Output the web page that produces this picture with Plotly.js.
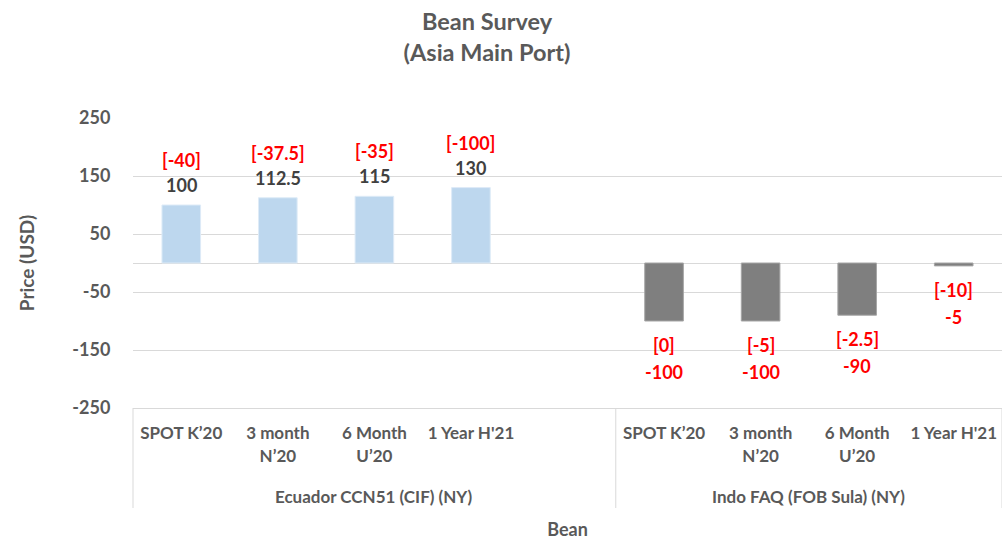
<!DOCTYPE html>
<html>
<head>
<meta charset="utf-8">
<script src="https://cdn.plot.ly/plotly-3.0.1.min.js"></script>
<style>html,body{margin:0;padding:0;background:#fff;}#chart{width:1002px;height:540px;}</style>
</head>
<body>
<div id="chart"></div>
<script>
// ---- data ----
const groups = ['Ecuador CCN51 (CIF) (NY)', 'Indo FAQ (FOB Sula) (NY)'];
const categories = ['SPOT K’20', '3 month<br>N’20', '6 Month<br>U’20', "1 Year H'21"];
const ecuadorValues = [100, 112.5, 115, 130];
const ecuadorChanges = [-40, -37.5, -35, -100];
const indoValues = [-100, -100, -90, -5];
const indoChanges = [0, -5, -2.5, -10];
const yTicks = [250, 150, 50, -50, -150, -250];

// ---- layout helpers ----
const slotsPerGroup = [5, 4];           // group 1 has a trailing empty slot
const totalSlots = slotsPerGroup[0] + slotsPerGroup[1];
const ecuadorX = categories.map((c, i) => i);
const indoX = categories.map((c, i) => slotsPerGroup[0] + i);

const FONT = 'Lato, "Open Sans", sans-serif';
const GREY_TEXT = '#595959';
const RED = '#FF0000';

const traces = [
  {type: 'bar', x: ecuadorX, y: ecuadorValues, width: 0.4,
   marker: {color: '#BDD7EE', line: {color: '#DEEBF7', width: 1}}, hoverinfo: 'skip'},
  {type: 'bar', x: indoX, y: indoValues, width: 0.4,
   marker: {color: '#7F7F7F', line: {color: '#A6A6A6', width: 1}}, hoverinfo: 'skip'}
];

const annotations = [];
ecuadorValues.forEach((v, i) => {
  annotations.push({x: ecuadorX[i], y: v, xref: 'x', yref: 'y', text: String(v), showarrow: false,
    xanchor: 'center', yanchor: 'middle', yshift: 20, font: {family: FONT, size: 18, color: '#404040', weight: 'bold'}});
  annotations.push({x: ecuadorX[i], y: v, xref: 'x', yref: 'y', text: '[' + ecuadorChanges[i] + ']', showarrow: false,
    xanchor: 'center', yanchor: 'middle', yshift: 45, font: {family: FONT, size: 18, color: RED, weight: 'bold'}});
});
indoValues.forEach((v, i) => {
  annotations.push({x: indoX[i], y: v, xref: 'x', yref: 'y', text: '[' + indoChanges[i] + ']', showarrow: false,
    xanchor: 'center', yanchor: 'middle', yshift: -24, font: {family: FONT, size: 18, color: RED, weight: 'bold'}});
  annotations.push({x: indoX[i], y: v, xref: 'x', yref: 'y', text: String(v), showarrow: false,
    xanchor: 'center', yanchor: 'middle', yshift: -51, font: {family: FONT, size: 18, color: RED, weight: 'bold'}});
});

// group labels and dividers
const shapes = [];
let start = 0;
const plotH = 290;
groups.forEach((g, gi) => {
  const n = slotsPerGroup[gi];
  annotations.push({x: (start + n / 2) / totalSlots, y: -88 / plotH, xref: 'paper', yref: 'paper',
    text: g, showarrow: false, xanchor: 'center', yanchor: 'middle',
    font: {family: FONT, size: 17, color: GREY_TEXT, weight: 'bold'}});
  shapes.push({type: 'line', xref: 'paper', yref: 'paper', x0: start / totalSlots, x1: start / totalSlots,
    y0: 0, y1: -100 / plotH, line: {color: '#D9D9D9', width: 1}});
  start += n;
});
shapes.push({type: 'line', xref: 'paper', yref: 'paper', x0: 1, x1: 1,
  y0: 0, y1: -100 / plotH, line: {color: '#D9D9D9', width: 1}});

const tickVals = ecuadorX.concat(indoX);
const tickText = categories.concat(categories);

const layout = {
  width: 1002, height: 540,
  margin: {l: 133, r: 0, t: 118, b: 132},
  paper_bgcolor: '#fff', plot_bgcolor: '#fff',
  showlegend: false,
  font: {family: FONT, color: GREY_TEXT},
  title: {text: 'Bean Survey<br>(Asia Main Port)', x: 487 / 1002, xref: 'container', xanchor: 'center',
    y: 1 - 30 / 540, yref: 'container', yanchor: 'top',
    font: {family: FONT, size: 23.5, color: GREY_TEXT, weight: 'bold'}},
  xaxis: {range: [-0.5, totalSlots - 0.5], tickmode: 'array', tickvals: tickVals, ticktext: tickText,
    showgrid: false, zeroline: false, showline: true, linecolor: '#D9D9D9', linewidth: 1,
    ticks: 'outside', ticklen: 10, tickcolor: 'rgba(0,0,0,0)',
    tickfont: {family: FONT, size: 17, color: GREY_TEXT, weight: 'bold'},
    title: {text: 'Bean', font: {family: FONT, size: 18, color: GREY_TEXT, weight: 'bold'}, standoff: 58},
    fixedrange: true},
  yaxis: {range: [-250, 250], tickmode: 'array', tickvals: yTicks, ticktext: yTicks.map(String),
    showgrid: true, gridcolor: '#D9D9D9', gridwidth: 1,
    zeroline: true, zerolinecolor: '#D9D9D9', zerolinewidth: 1,
    showline: false, ticks: 'outside', ticklen: 18, tickcolor: 'rgba(0,0,0,0)',
    tickfont: {family: FONT, size: 18, color: GREY_TEXT, weight: 'bold'},
    title: {text: 'Price (USD)', font: {family: FONT, size: 19, color: GREY_TEXT, weight: 'bold'}, standoff: 32},
    fixedrange: true},
  annotations: annotations,
  shapes: shapes,
  bargap: 0
};

Plotly.newPlot('chart', traces, layout, {displayModeBar: false, staticPlot: true});
</script>
</body>
</html>
